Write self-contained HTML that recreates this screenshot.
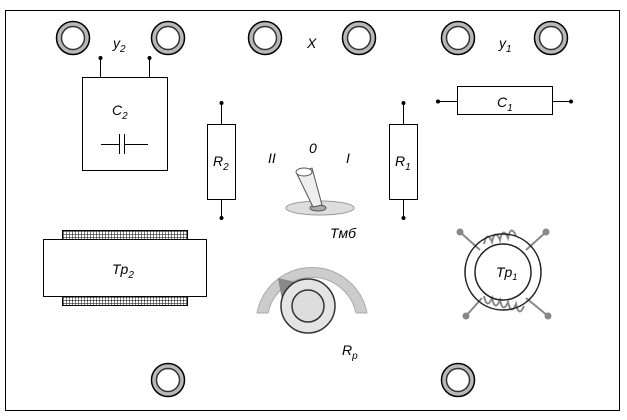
<!DOCTYPE html>
<html><head><style>body{margin:0;background:#fff}svg{display:block}text{font-family:"Liberation Sans",sans-serif;font-style:italic;font-size:14px;fill:#000}</style></head><body>
<svg width="627" height="420" viewBox="0 0 627 420" xmlns="http://www.w3.org/2000/svg">
<defs>
<pattern id="h" width="3" height="3" patternUnits="userSpaceOnUse"><rect width="3" height="3" fill="#fff"/><path d="M0 0H3M0 0V3" stroke="#000" stroke-width="1"/></pattern>
<g id="j"><circle r="16.5" fill="#b8b8b8" stroke="#000" stroke-width="1.5"/><circle r="11.5" fill="#fff" stroke="#333" stroke-width="1.5"/></g>
</defs>
<rect x="5.5" y="10.5" width="614" height="400" fill="none" stroke="#000"/>
<use href="#j" x="73" y="38"/><use href="#j" x="168" y="38"/><use href="#j" x="265" y="38"/><use href="#j" x="359" y="38"/><use href="#j" x="458" y="38"/><use href="#j" x="551" y="38"/><use href="#j" x="168" y="380"/><use href="#j" x="458" y="380"/>
<text x="113" y="48">y<tspan font-size="10" dy="4">2</tspan></text>
<text x="307" y="48">X</text>
<text x="499" y="48">y<tspan font-size="10" dy="4">1</tspan></text>
<g stroke="#000" fill="none">
<rect x="82.5" y="77.5" width="85" height="93"/>
<path d="M100.5 58V77M149.5 58V77M101 144.5H119M119.5 134V154M124.5 134V154M124 144.5H148"/>
<rect x="207.5" y="124.5" width="28" height="75"/><path d="M221.5 103V124M221.5 200V218"/>
<rect x="389.5" y="124.5" width="28" height="75"/><path d="M403.5 103V124M403.5 200V218"/>
<rect x="457.5" y="86.5" width="95" height="28"/><path d="M438 101.5H457M553 101.5H571"/>
</g>
<g fill="#000"><circle cx="100.5" cy="58" r="2"/><circle cx="149.5" cy="58" r="2"/><circle cx="221.5" cy="103" r="2"/><circle cx="221.5" cy="218" r="2"/><circle cx="403.5" cy="103" r="2"/><circle cx="403.5" cy="218" r="2"/><circle cx="438" cy="101.5" r="2"/><circle cx="571" cy="101.5" r="2"/></g>
<text x="112" y="115">C<tspan font-size="10" dy="4">2</tspan></text>
<text x="213" y="166">R<tspan font-size="10" dy="4">2</tspan></text>
<text x="395" y="166">R<tspan font-size="10" dy="4">1</tspan></text>
<text x="497" y="107">C<tspan font-size="10" dy="4">1</tspan></text>
<rect x="62.5" y="230.5" width="125" height="9" fill="url(#h)" stroke="#000"/>
<rect x="62.5" y="296.5" width="125" height="9" fill="url(#h)" stroke="#000"/>
<rect x="43.5" y="239.5" width="163" height="57" fill="#fff" stroke="#000"/>
<text x="112" y="274">Tp<tspan font-size="10" dy="4">2</tspan></text>
<text x="268" y="163">II</text><text x="309" y="153">0</text><text x="346" y="163">I</text>
<ellipse cx="320" cy="208" rx="34" ry="7" fill="#ddd" stroke="#999"/>
<ellipse cx="318" cy="208" rx="8" ry="3" fill="#aaa" stroke="#555"/>
<path d="M297 174L312 168L322 205L313 207Z" fill="#eee" stroke="#555"/>
<ellipse cx="304" cy="172" rx="8" ry="4" fill="#fff" stroke="#555"/>
<text x="330" y="238">Tмб</text>
<path d="M257 313A56 56 0 0 1 367 313L356 313A45 45 0 0 0 268 313Z" fill="#ccc" stroke="#aaa"/>
<path d="M278 278L300 283L282 300Z" fill="#888"/>
<circle cx="308" cy="306" r="27" fill="#e4e4e4" stroke="#333" stroke-width="1.5"/>
<circle cx="308" cy="306" r="16" fill="#ddd" stroke="#333" stroke-width="1.5"/>
<text x="342" y="355">R<tspan font-size="10" dy="4">p</tspan></text>
<g stroke="#888" stroke-width="2" fill="none">
<path d="M460 232L480 250M546 232L526 250M466 316L482 298M548 316L526 298"/>
<path d="M484 244q3 -14 8 -2q3 -14 8 -2q3 -14 8 -2q3 -14 8 -2M484 296q3 14 8 2q3 14 8 2q3 14 8 2q3 14 8 2q3 14 8 2"/>
</g>
<g fill="#888"><circle cx="460" cy="232" r="3.5"/><circle cx="546" cy="232" r="3.5"/><circle cx="466" cy="316" r="3.5"/><circle cx="548" cy="316" r="3.5"/></g>
<circle cx="503" cy="272" r="38" fill="none" stroke="#222" stroke-width="1.5"/>
<circle cx="503" cy="272" r="28" fill="none" stroke="#222" stroke-width="1.5"/>
<text x="496" y="277" font-size="13">Tp<tspan font-size="9" dy="3">1</tspan></text>
</svg></body></html>
